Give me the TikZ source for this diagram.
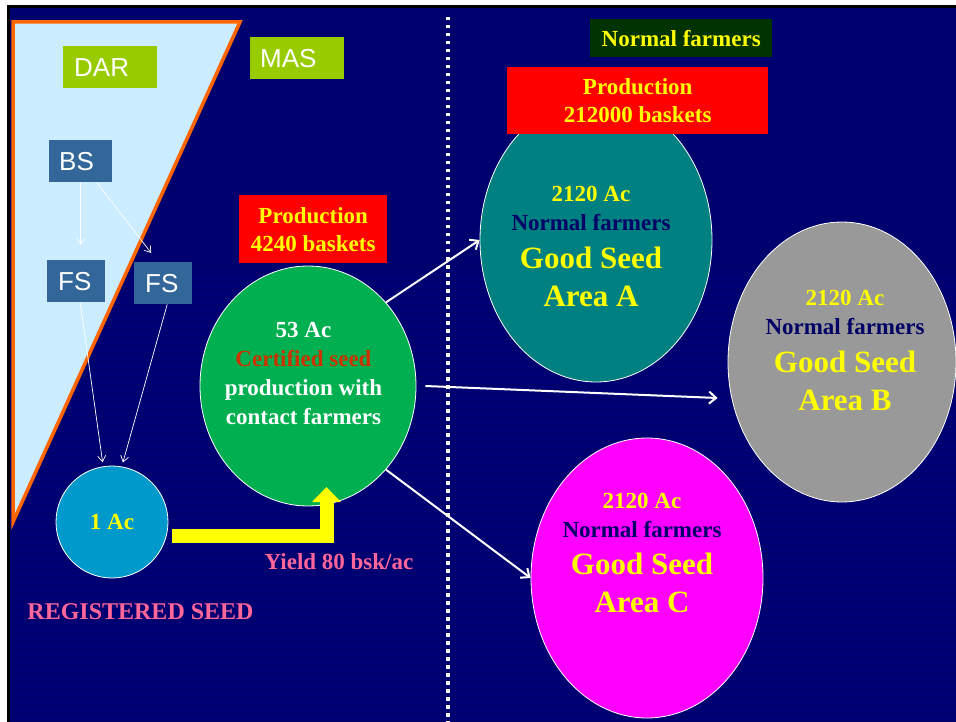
\documentclass[tikz,border=0pt]{standalone}
\usepackage{fontspec}
\setmainfont{Liberation Serif}
\newfontfamily\sansf{Liberation Sans}
\usetikzlibrary{shapes.geometric,arrows.meta}
\definecolor{navybg}{RGB}{0,0,108}
\definecolor{navystripe}{RGB}{0,0,118}
\definecolor{dargreen}{RGB}{153,204,0}
\definecolor{steel}{RGB}{51,102,153}
\definecolor{lightblue}{RGB}{204,236,255}
\definecolor{orangeb}{RGB}{255,102,0}
\definecolor{seedgreen}{RGB}{0,176,80}
\definecolor{tealA}{RGB}{0,128,128}
\definecolor{grayB}{RGB}{153,153,153}
\definecolor{magentaC}{RGB}{255,0,255}
\definecolor{cyanreg}{RGB}{0,153,204}
\definecolor{pinkt}{RGB}{255,102,153}
\definecolor{boxdkgreen}{RGB}{0,51,0}
\definecolor{certred}{RGB}{204,51,0}
\definecolor{ylw}{RGB}{255,255,0}
\definecolor{deepnavy}{RGB}{0,0,102}
\definecolor{redbox}{RGB}{255,0,0}
\tikzset{
  sansbox/.style={rectangle, anchor=north west, inner ysep=0pt, align=left,
    font=\sansf\fontsize{26}{30}\selectfont, text=white},
  serifb/.style={font=\bfseries\fontsize{23}{29}\selectfont, align=center, inner sep=0pt},
  bigserif/.style={font=\bfseries\fontsize{31}{38}\selectfont, align=center, inner sep=0pt, text=ylw},
  redprod/.style={rectangle, fill=redbox, anchor=north west, inner sep=0pt, align=center,
    text=ylw, font=\bfseries\fontsize{23}{28}\selectfont},
  blob/.style={ellipse, draw=white, line width=0.8pt, inner sep=0pt},
  thinarrow/.style={draw=white, line width=0.7pt, -{Straight Barb[length=6pt,width=8pt]}},
  bigarrow/.style={draw=white, line width=2pt, -{Straight Barb[length=7pt,width=12pt]}},
}
\begin{document}
\begin{tikzpicture}[x=1pt,y=-1pt]
\useasboundingbox (0,0) rectangle (956,722);
% background
\fill[white] (0,0) rectangle (956,722);
\fill[black] (7,5) rectangle (956,722);
\fill[navybg] (10,8) rectangle (956,722);
\foreach \yy in {10,14,...,720} {\fill[navystripe] (10,\yy) rectangle (956,\yy+1.5);}
% dotted separator
\draw[white, line width=3.5pt, dash pattern=on 3.5pt off 4.5pt] (448,17) -- (448,722);
% triangle
\fill[lightblue] (13,22) -- (240,22) -- (13,522) -- cycle;
\draw[orangeb, line width=3.5pt, line join=miter] (13,22) -- (240,22) -- (13,522) -- cycle;
% labels
\node[sansbox, fill=dargreen, minimum height=42pt, inner xsep=11pt, text width=72pt] (dar) at (63,46) {DAR};
\node[sansbox, fill=dargreen, minimum height=42pt, inner xsep=10pt, text width=74pt] (mas) at (250,37) {MAS};
\node[sansbox, fill=steel, minimum height=42pt, inner xsep=10pt, text width=43pt] (bs) at (49,140) {BS};
\node[sansbox, fill=steel, minimum height=42pt, inner xsep=11pt, text width=36pt] (fsl) at (47,260) {FS};
\node[sansbox, fill=steel, minimum height=42pt, inner xsep=11pt, text width=36pt] (fsr) at (134,262) {FS};
% registered seed circle
\node[blob, circle, minimum size=112pt, fill=cyanreg] (one) at (112,522) {};
\node[serifb, text=ylw] (onet) at (112,522) {1 Ac};
% thin arrows
\draw[thinarrow, shorten >=15pt] (bs.south) -- (bs.south |- fsl.north);
\draw[thinarrow] ([xshift=16pt]bs.south) -- ([xshift=-12pt,yshift=9pt]fsr.north);
\draw[thinarrow, shorten >=4pt] ([xshift=4pt]fsl.south) -- (one.99);
\draw[thinarrow, shorten >=4pt] ([xshift=4pt]fsr.south) -- (one.80);
% certified seed ellipse
\node[blob, fill=seedgreen, minimum width=216pt, minimum height=240pt] (cert) at (308,386) {};
\node[serifb, text=white] (certt) at (303.5,373.5) {53 Ac\\ \textcolor{certred}{Certified seed}\\ production with\\ contact farmers};
\node[redprod, minimum width=148pt, minimum height=68pt] (prod1) at (239,195) {Production\\ 4240 baskets};
% yellow bent arrow
\coordinate (ystart) at (172,535.5);
\coordinate (ytip) at (326.5,487);
\draw[ylw, line width=14pt, line join=miter, -{Triangle[length=15pt,width=28pt]}] (ystart) -| (ytip);
\node[serifb, text=pinkt] (yield) at (339,562) {Yield 80 bsk/ac};
\node[serifb, text=pinkt, font=\bfseries\fontsize{24}{29}\selectfont] (reg) at (140.5,612) {REGISTERED SEED};
% right side
\node[rectangle, fill=boxdkgreen, anchor=north west, minimum width=182pt, minimum height=38pt, inner sep=0pt, text=ylw, font=\bfseries\fontsize{23}{28}\selectfont] (nf) at (590,19) {Normal farmers};
\node[blob, fill=tealA, minimum width=232pt, minimum height=284pt] (areaA) at (596,240) {};
\node[redprod, minimum width=261pt, minimum height=67pt] (prod2) at (507,67) {Production\\ 212000 baskets};
\node[blob, fill=grayB, minimum width=228pt, minimum height=280pt] (areaB) at (842,362) {};
\node[blob, fill=magentaC, minimum width=232pt, minimum height=280pt] (areaC) at (647,578) {};
% area texts
\node[serifb, text=ylw] (aS) at (591,208.5) {2120 Ac\\ \textcolor{deepnavy}{Normal farmers}};
\node[bigserif] (aB) at (591,277) {Good Seed\\ Area A};
\node[serifb, text=ylw] (bS) at (845,312.5) {2120 Ac\\ \textcolor{deepnavy}{Normal farmers}};
\node[bigserif] (bB) at (845,381) {Good Seed\\ Area B};
\node[serifb, text=ylw] (cS) at (642,515) {2120 Ac\\ \textcolor{deepnavy}{Normal farmers}};
\node[bigserif] (cB) at (642,583) {Good Seed\\ Area C};
% big arrows
\draw[bigarrow] (cert.47) -- (areaA.west);
\draw[bigarrow] ([xshift=9pt]cert.east) -- ([xshift=-10pt,yshift=-36pt]areaB.west);
\draw[bigarrow] (cert.-47) -- (areaC.west);
\end{tikzpicture}
\end{document}
